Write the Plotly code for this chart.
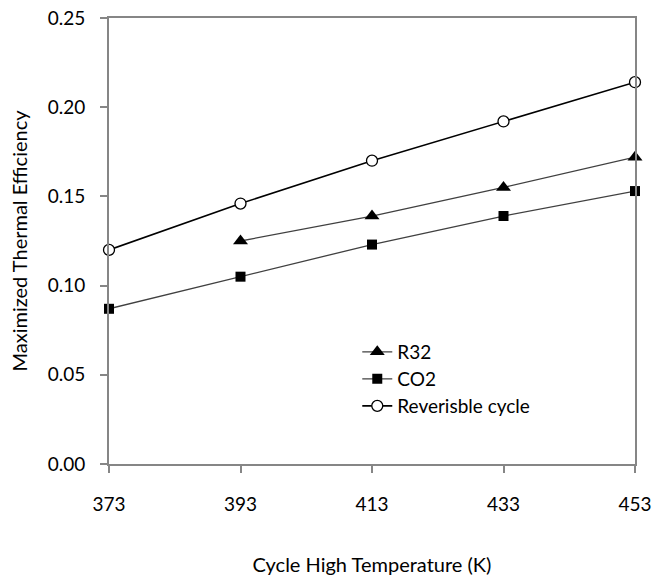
import plotly.graph_objects as go

temps = [373, 393, 413, 433, 453]
r32_temps = [393, 413, 433, 453]
r32_eff = [0.125, 0.139, 0.155, 0.172]
co2_eff = [0.087, 0.105, 0.123, 0.139, 0.153]
rev_eff = [0.120, 0.146, 0.170, 0.192, 0.214]
x_ticks = [373, 393, 413, 433, 453]
y_ticks = [0.00, 0.05, 0.10, 0.15, 0.20, 0.25]
y_tick_text = ["0.00", "0.05", "0.10", "0.15", "0.20", "0.25"]

FONT = "Lato, Carlito, Calibri, sans-serif"

fig = go.Figure()
fig.add_trace(go.Scatter(
    x=r32_temps, y=r32_eff, name="R32", mode="lines+markers",
    line=dict(color="#404040", width=1.3),
    marker=dict(symbol="triangle-up", size=13, color="black"),
    legend="legend"))
fig.add_trace(go.Scatter(
    x=temps, y=co2_eff, name="CO2", mode="lines+markers",
    line=dict(color="#404040", width=1.3),
    marker=dict(symbol="square", size=10, color="black"),
    legend="legend2"))
fig.add_trace(go.Scatter(
    x=temps, y=rev_eff, name="Reverisble cycle", mode="lines+markers",
    line=dict(color="black", width=1.6),
    marker=dict(symbol="circle", size=11, color="white",
                line=dict(color="black", width=1.3)),
    legend="legend3"))

W, H = 652, 588
L, R, T, B = 109, 17, 18, 124
ph = H - T - B
leg_common = dict(x=0.472, xanchor="left", yanchor="middle",
                  bgcolor="rgba(0,0,0,0)", font=dict(family=FONT, size=19, color="black"),
                  itemwidth=30)
fig.update_layout(
    width=W, height=H,
    margin=dict(l=L, r=R, t=T, b=B, autoexpand=False),
    paper_bgcolor="white", plot_bgcolor="white",
    font=dict(family=FONT, size=19, color="black"),
    showlegend=True,
    legend=dict(y=1 - 334 / ph, **leg_common),
    legend2=dict(y=1 - 361 / ph, **leg_common),
    legend3=dict(y=1 - 388 / ph, **leg_common),
    xaxis=dict(
        range=[373, 453], tickvals=x_ticks, ticktext=[str(t) for t in x_ticks],
        showgrid=False, zeroline=False, automargin=False,
        showline=True, linecolor="#868686", linewidth=2, mirror=True,
        ticks="outside", ticklen=7, tickcolor="#868686", tickwidth=1.5,
        ticklabelstandoff=15, ticklabeloverflow="allow",
        title=dict(text="Cycle High Temperature (K)", standoff=44,
                   font=dict(family=FONT, size=20)),
    ),
    yaxis=dict(
        range=[0, 0.25], tickvals=y_ticks, ticktext=y_tick_text,
        showgrid=False, zeroline=False, automargin=False,
        showline=True, linecolor="#868686", linewidth=2, mirror=True,
        ticks="outside", ticklen=7, tickcolor="#868686", tickwidth=1.5,
        ticklabelstandoff=11, ticklabeloverflow="allow",
        title=dict(text="Maximized Thermal Efficiency", standoff=15,
                   font=dict(family=FONT, size=20)),
    ),
)
for tr in fig.data:
    tr.cliponaxis = False

fig.write_html(
    "out.html",
    config={"displayModeBar": False},
    post_script="document.body.style.margin='0';document.body.style.overflow='hidden';",
)
